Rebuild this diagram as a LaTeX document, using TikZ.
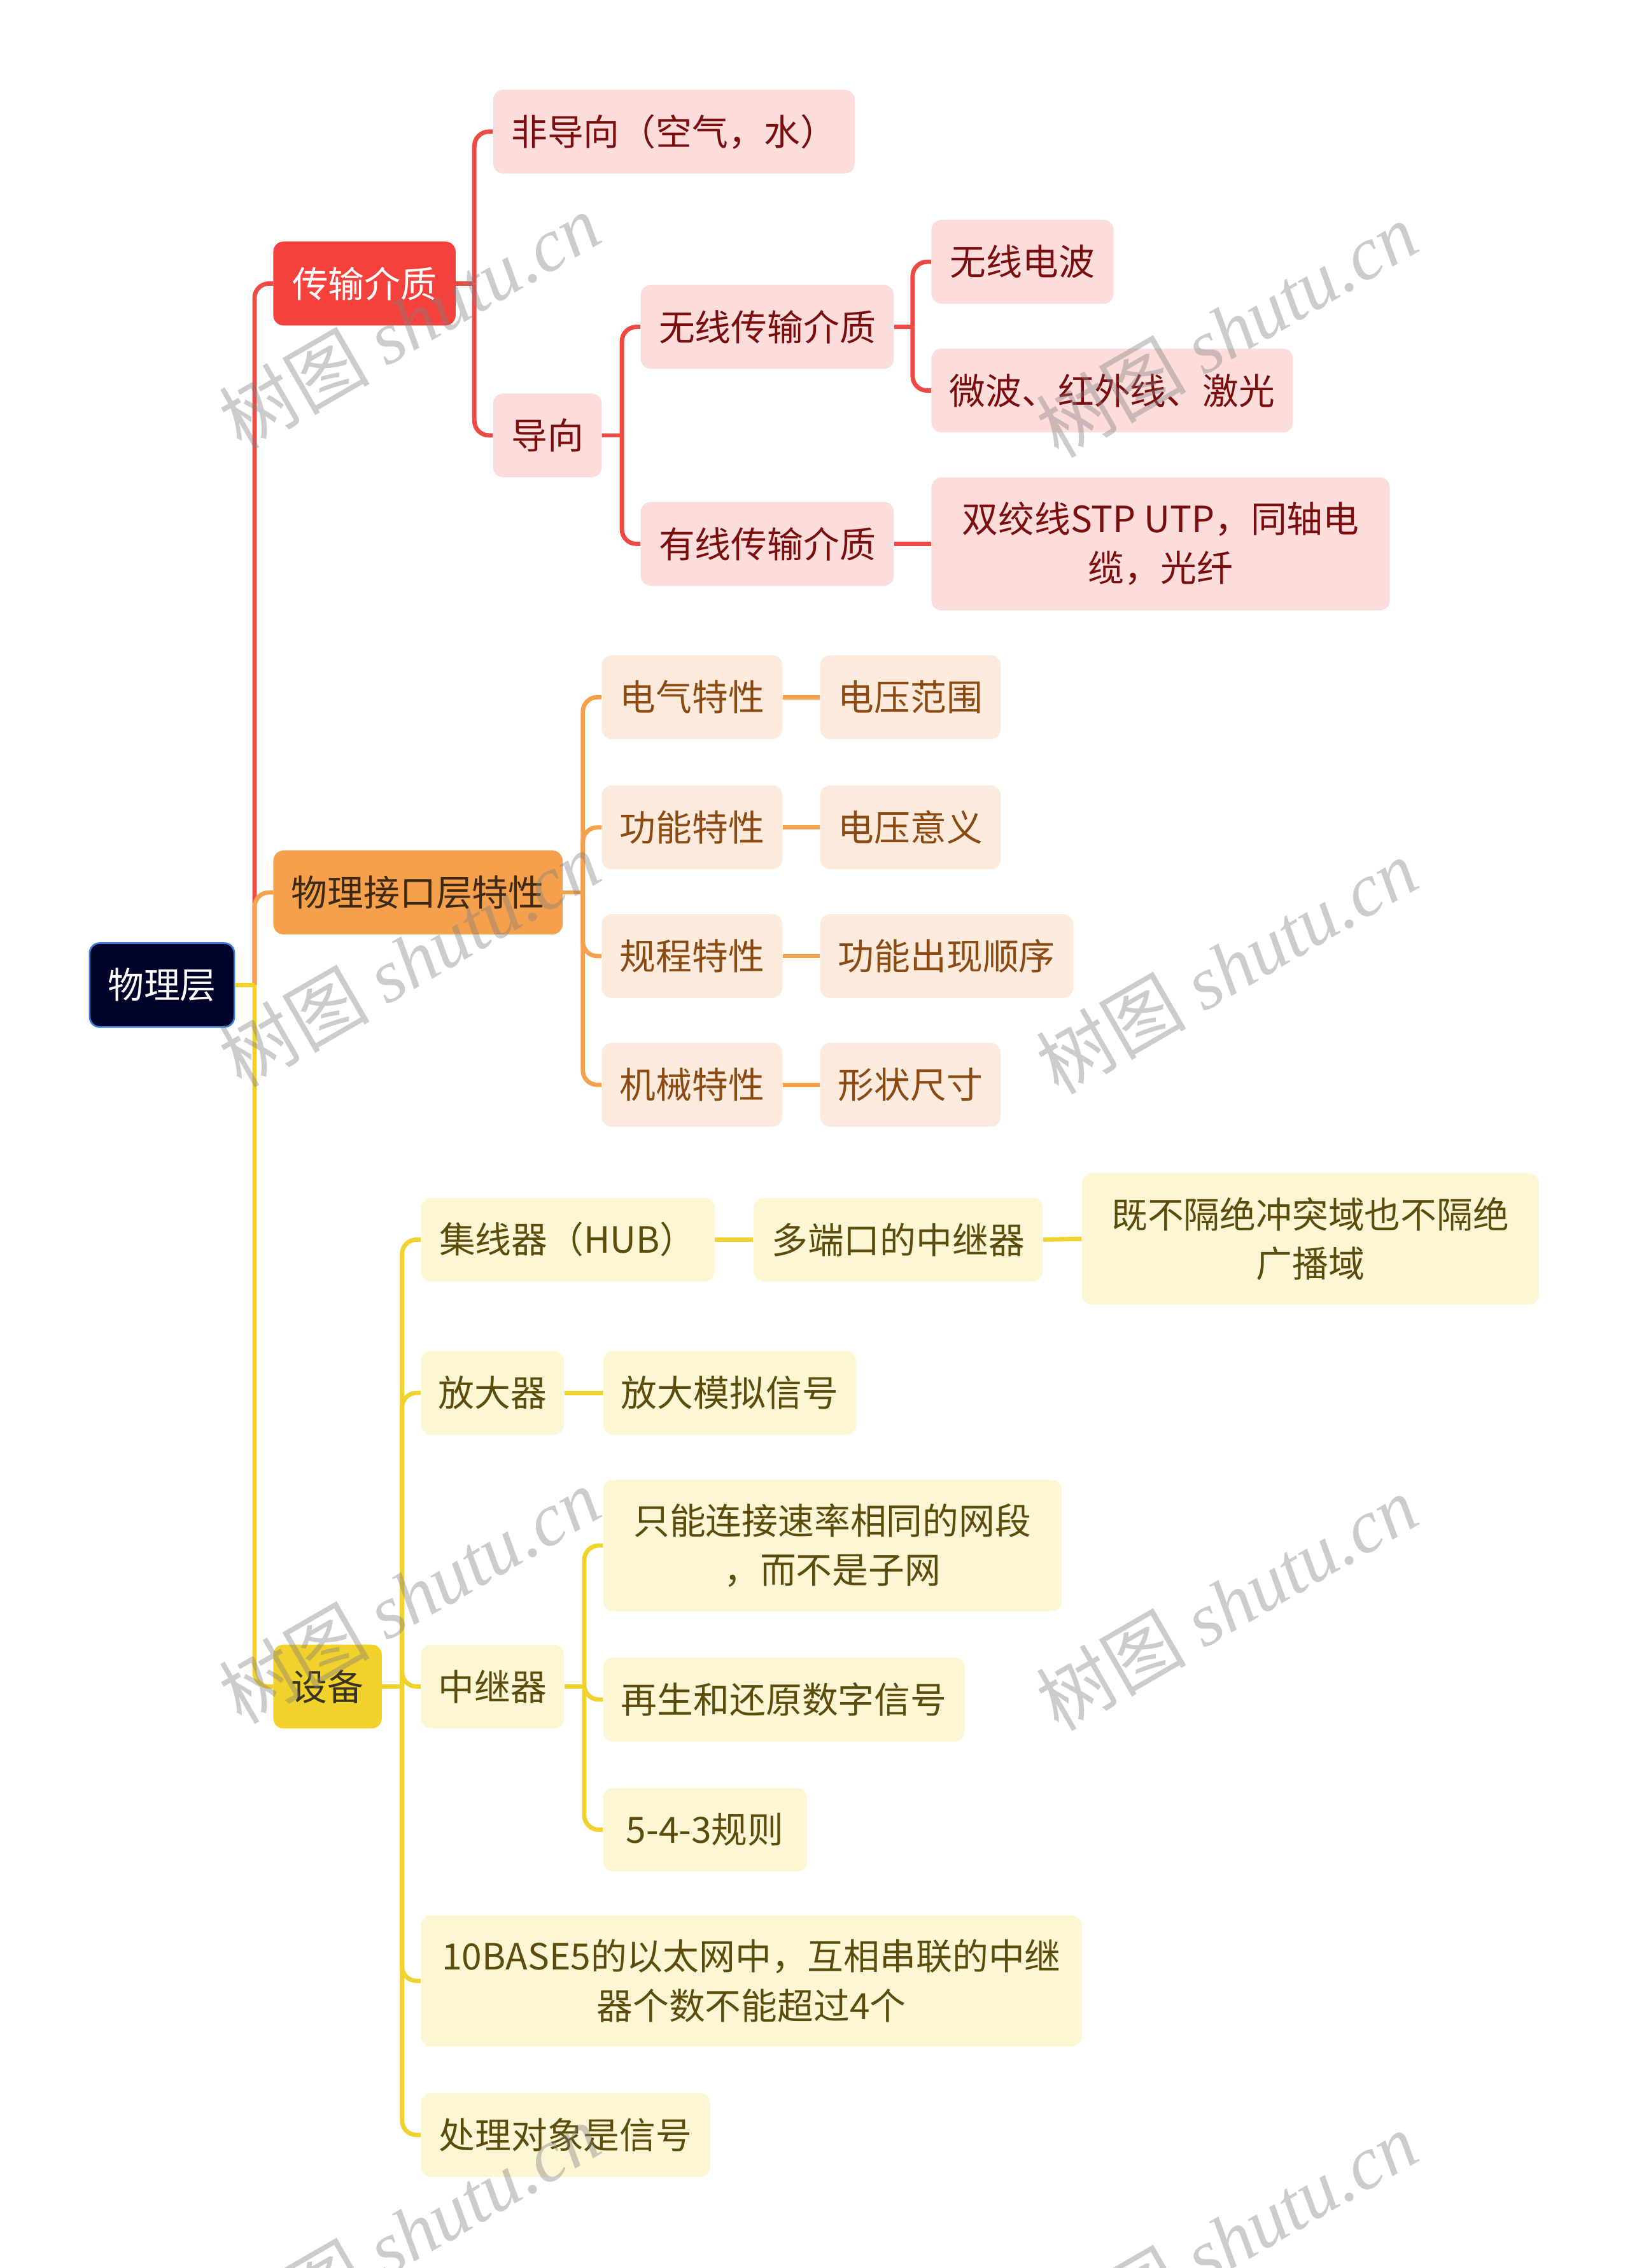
\documentclass[tikz,border=0pt]{standalone}
\usepackage{fontspec}
\setmainfont{Noto Sans CJK SC}
\newfontfamily\wmlatin{Liberation Serif}
\usetikzlibrary{calc}
\definecolor{rootfill}{HTML}{000229}
\definecolor{rootdraw}{HTML}{3A7BD5}
\definecolor{redmain}{HTML}{F5413B}
\definecolor{redline}{HTML}{EE4A44}
\definecolor{redsub}{HTML}{FDDCDC}
\definecolor{redtext}{HTML}{7A0E0E}
\definecolor{ormain}{HTML}{F4A04D}
\definecolor{orsub}{HTML}{FCEBDC}
\definecolor{ortext}{HTML}{8A4A12}
\definecolor{ormaintext}{HTML}{3D2A15}
\definecolor{yemain}{HTML}{F1D12B}
\definecolor{yesub}{HTML}{FDF6D5}
\definecolor{yetext}{HTML}{5C4C0C}
\definecolor{yemaintext}{HTML}{3A3320}
\tikzset{
  box/.style={rounded corners=7pt, minimum height=58pt, inner sep=0pt, align=center,
    font=\fontsize{25}{34}\selectfont},
  rootbox/.style={box, fill=rootfill, draw=rootdraw, line width=1.2pt, text=white},
  redmainbox/.style={box, fill=redmain, text=white},
  redbox/.style={box, fill=redsub, text=redtext},
  ormainbox/.style={box, fill=ormain, text=ormaintext},
  orbox/.style={box, fill=orsub, text=ortext},
  yemainbox/.style={box, fill=yemain, text=yemaintext},
  yebox/.style={box, fill=yesub, text=yetext},
  redl/.style={draw=redline, line width=3pt},
  orl/.style={draw=ormain, line width=3pt},
  yel/.style={draw=yemain, line width=3pt},
  rc/.style={rounded corners=10pt},
  wm/.style={rotate=30, text=gray, opacity=0.4, font=\fontsize{52}{56}\selectfont}
}
\begin{document}
\begin{tikzpicture}[x=1pt,y=-1pt]
\useasboundingbox (0,0) rectangle (1127,1568);
\fill[white] (0,0) rectangle (1127,1568);

% main nodes
\node[rootbox, minimum width=100pt] (root) at (112,681) {物理层};
\node[redmainbox, minimum width=126pt] (n1) at (252,196) {传输介质};
\node[ormainbox, minimum width=200pt] (n2) at (289,617) {物理接口层特性};
\node[yemainbox, minimum width=75pt] (n3) at (226.5,1166) {设备};

% red branch
\node[redbox, minimum width=250pt] (a1) at (466,91) {非导向（空气，水）};
\node[redbox, minimum width=75pt] (a2) at (378.5,301) {导向};
\node[redbox, minimum width=175pt] (a3) at (530.5,226) {无线传输介质};
\node[redbox, minimum width=175pt] (a4) at (530.5,376) {有线传输介质};
\node[redbox, minimum width=126pt] (a5) at (707,181) {无线电波};
\node[redbox, minimum width=250pt] (a6) at (769,270) {微波、红外线、激光};
\node[redbox, minimum width=317pt, minimum height=92pt] (a7) at (802.5,376) {双绞线STP UTP，同轴电\\缆，光纤};

% orange branch
\node[orbox, minimum width=125pt] (b1) at (478.5,482) {电气特性};
\node[orbox, minimum width=125pt] (b2) at (478.5,572) {功能特性};
\node[orbox, minimum width=125pt] (b3) at (478.5,661) {规程特性};
\node[orbox, minimum width=125pt] (b4) at (478.5,750) {机械特性};
\node[orbox, minimum width=125pt] (c1) at (629.5,482) {电压范围};
\node[orbox, minimum width=125pt] (c2) at (629.5,572) {电压意义};
\node[orbox, minimum width=175pt] (c3) at (654.5,661) {功能出现顺序};
\node[orbox, minimum width=125pt] (c4) at (629.5,750) {形状尺寸};

% yellow branch
\node[yebox, minimum width=203pt] (d1) at (392.5,857) {集线器（HUB）};
\node[yebox, minimum width=200pt] (d2) at (621,857) {多端口的中继器};
\node[yebox, minimum width=316pt, minimum height=91pt] (d3) at (906,856.5) {既不隔绝冲突域也不隔绝\\广播域};
\node[yebox, minimum width=99pt] (d4) at (340.5,963) {放大器};
\node[yebox, minimum width=175pt] (d5) at (504.5,963) {放大模拟信号};
\node[yebox, minimum width=99pt] (d6) at (340.5,1166) {中继器};
\node[yebox, minimum width=317pt, minimum height=91pt] (d7) at (575.5,1068.5) {只能连接速率相同的网段\\，而不是子网};
\node[yebox, minimum width=250pt] (d8) at (542,1175) {再生和还原数字信号};
\node[yebox, minimum width=141pt] (d9) at (487.5,1265) {5-4-3规则};
\node[yebox, minimum width=457pt, minimum height=91pt] (d10) at (519.5,1369.5) {10BASE5的以太网中，互相串联的中继\\器个数不能超过4个};
\node[yebox, minimum width=200pt] (d11) at (391,1476) {处理对象是信号};

% junctions
\coordinate (jr) at (176,681);
\coordinate (j1) at (328,196);
\coordinate (j2) at (430,301);
\coordinate (j3) at (631,226);
\coordinate (j4) at (403,617);
\coordinate (j5) at (278,1166);
\coordinate (j6) at (404,1166);

% root connectors
\draw[redl,rc] (jr) |- (n1.west);
\draw[orl,rc] (jr) |- (n2.west);
\draw[yel,rc] (jr) |- (n3.west);
\draw[yel] (root.east) -- (jr);

% red connectors
\draw[redl] (n1.east) -- (j1);
\draw[redl,rc] (j1) |- (a1.west);
\draw[redl,rc] (j1) |- (a2.west);
\draw[redl] (a2.east) -- (j2);
\draw[redl,rc] (j2) |- (a3.west);
\draw[redl,rc] (j2) |- (a4.west);
\draw[redl] (a3.east) -- (j3);
\draw[redl,rc] (j3) |- (a5.west);
\draw[redl,rc] (j3) |- (a6.west);
\draw[redl] (a4.east) -- (a7.west);

% orange connectors
\draw[orl] (n2.east) -- (j4);
\foreach \b in {b1,b2,b3,b4} { \draw[orl,rc] (j4) |- (\b.west); }
\draw[orl] (b1.east) -- (c1.west);
\draw[orl] (b2.east) -- (c2.west);
\draw[orl] (b3.east) -- (c3.west);
\draw[orl] (b4.east) -- (c4.west);

% yellow connectors
\draw[yel] (n3.east) -- (j5);
\foreach \d in {d1,d4,d6,d10,d11} { \draw[yel,rc] (j5) |- (\d.west); }
\draw[yel] (d1.east) -- (d2.west);
\draw[yel] (d2.east) -- (d3.west);
\draw[yel] (d4.east) -- (d5.west);
\draw[yel] (d6.east) -- (j6);
\foreach \d in {d7,d8,d9} { \draw[yel,rc] (j6) |- (\d.west); }

% watermarks
\foreach \px/\py in {283/222, 848/228, 283/663, 848/668, 283/1103, 848/1108, 283/1543, 848/1548} {
  \node[wm] (wm) at (\px,\py) {树图 {\wmlatin\itshape shutu.cn}};
}
\end{tikzpicture}
\end{document}
